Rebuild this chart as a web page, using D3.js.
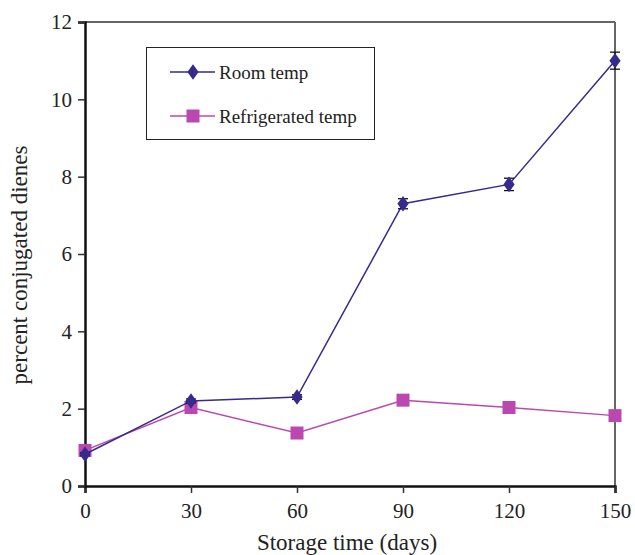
<!DOCTYPE html>
<html><head><meta charset="utf-8">
<script src="https://cdn.jsdelivr.net/npm/d3@7"></script>
<style>body{margin:0;background:#fff}svg{display:block}text{font-family:"Liberation Serif","Times New Roman",serif;fill:#222}</style>
</head><body><svg id="c" width="635" height="555"></svg>
<script>
const days = [0, 30, 60, 90, 120, 150];
const roomTemp = [0.82, 2.2, 2.3, 7.3, 7.8, 11.0];
const roomErr = [0.04, 0.05, 0.06, 0.13, 0.16, 0.22];
const refrigTemp = [0.92, 2.03, 1.37, 2.22, 2.03, 1.82];
const xTicks = [0, 30, 60, 90, 120, 150];
const yTicks = [0, 2, 4, 6, 8, 10, 12];
const seriesNames = ["Room temp", "Refrigerated temp"];

const svg = d3.select("#c");
const L = 85, R = 615, T = 22, B = 486;
const x = d3.scaleLinear().domain([0, 150]).range([L, R]);
const y = d3.scaleLinear().domain([0, 12]).range([B, T]);
const blue = "#362a8c", pink = "#bb48b0";

// frame top/right (gray)
svg.append("line").attr("x1", L).attr("x2", R).attr("y1", T).attr("y2", T).attr("stroke", "#666").attr("stroke-width", 2);
svg.append("line").attr("x1", R).attr("x2", R).attr("y1", T).attr("y2", B).attr("stroke", "#666").attr("stroke-width", 2);

// axes
const xa = svg.append("g").attr("transform", `translate(0,${B})`)
  .call(d3.axisBottom(x).tickValues(xTicks).tickSize(7).tickPadding(10));
const ya = svg.append("g").attr("transform", `translate(${L},0)`)
  .call(d3.axisLeft(y).tickValues(yTicks).tickSize(7).tickPadding(6));
[xa, ya].forEach(a => {
  a.select(".domain").attr("stroke", "#111").attr("stroke-width", 2.5);
  a.selectAll(".tick line").attr("stroke", "#333").attr("stroke-width", 1.5);
  a.selectAll(".tick text").style("font-size", "21px").attr("fill", "#222");
});

// labels
svg.append("text").attr("x", 347).attr("y", 550).attr("text-anchor", "middle").style("font-size", "23px").text("Storage time (days)");
svg.append("text").attr("transform", "translate(27,265) rotate(-90)").attr("text-anchor", "middle").style("font-size", "23px").text("percent conjugated dienes");

const line = d3.line().x((d, i) => x(days[i])).y(d => y(d));

// refrigerated
svg.append("path").datum(refrigTemp).attr("d", line).attr("fill", "none").attr("stroke", pink).attr("stroke-width", 1.5);
svg.selectAll(".sq").data(refrigTemp).enter().append("rect")
  .attr("x", (d, i) => x(days[i]) - 6.5).attr("y", d => y(d) - 6.5).attr("width", 13).attr("height", 13).attr("fill", pink);

// room
svg.append("path").datum(roomTemp).attr("d", line).attr("fill", "none").attr("stroke", blue).attr("stroke-width", 1.5);
const eb = svg.append("g").attr("stroke", "#111").attr("stroke-width", 1.3);
roomTemp.forEach((d, i) => {
  const cx = x(days[i]), y1 = y(d + roomErr[i]), y2 = y(d - roomErr[i]);
  eb.append("line").attr("x1", cx).attr("x2", cx).attr("y1", y1).attr("y2", y2);
  eb.append("line").attr("x1", cx - 5).attr("x2", cx + 5).attr("y1", y1).attr("y2", y1);
  eb.append("line").attr("x1", cx - 5).attr("x2", cx + 5).attr("y1", y2).attr("y2", y2);
});
const diamond = d3.symbol().type(d3.symbolDiamond).size(70);
svg.selectAll(".dm").data(roomTemp).enter().append("path")
  .attr("d", diamond).attr("transform", (d, i) => `translate(${x(days[i])},${y(d)}) scale(1.25,1)`).attr("fill", blue);

// legend
const lg = svg.append("g");
lg.append("rect").attr("x", 146.5).attr("y", 47.5).attr("width", 228).attr("height", 92).attr("fill", "#fff").attr("stroke", "#222").attr("stroke-width", 1);
const ly = [72, 116];
const lcols = [blue, pink];
ly.forEach((yy, i) => {
  lg.append("line").attr("x1", 170).attr("x2", 215).attr("y1", yy).attr("y2", yy).attr("stroke", lcols[i]).attr("stroke-width", 1.5);
  if (i === 0) lg.append("path").attr("d", diamond).attr("transform", `translate(193,${yy}) scale(1.25,1)`).attr("fill", blue);
  else lg.append("rect").attr("x", 186.5).attr("y", yy - 6.5).attr("width", 13).attr("height", 13).attr("fill", pink);
  lg.append("text").attr("x", 219).attr("y", yy + 7).style("font-size", "19px").text(seriesNames[i]);
});
</script></body></html>
